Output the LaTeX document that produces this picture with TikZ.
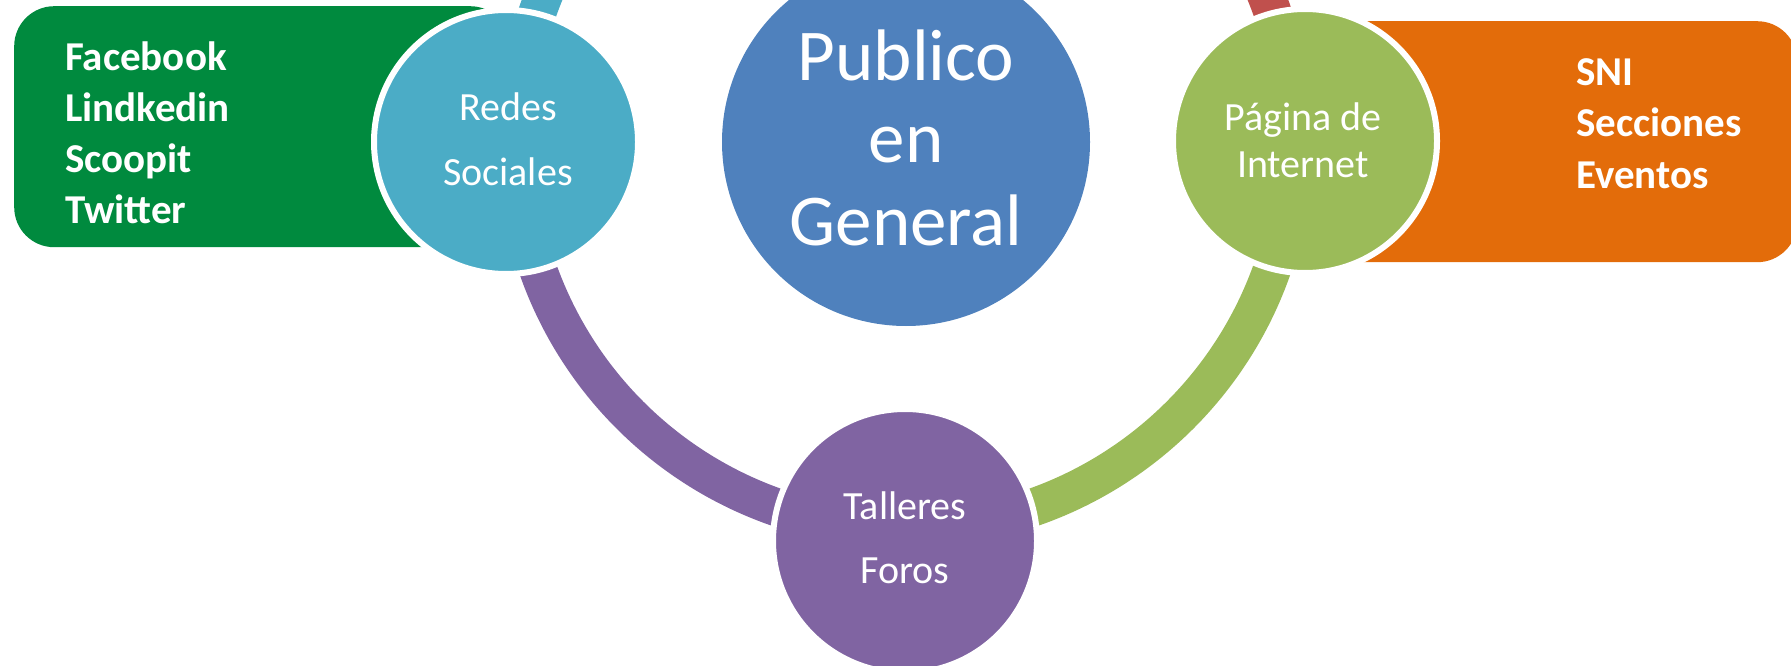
\documentclass[tikz,border=0pt]{standalone}
\usepackage{fontspec}
\setmainfont{Carlito}
\definecolor{pubblue}{RGB}{79,129,189}
\definecolor{redcyan}{RGB}{75,172,198}
\definecolor{pagreen}{RGB}{155,187,89}
\definecolor{talpurple}{RGB}{128,100,162}
\definecolor{topred}{RGB}{192,80,77}
\definecolor{boxgreen}{RGB}{0,138,62}
\definecolor{boxorange}{RGB}{227,108,10}
\begin{document}
\begin{tikzpicture}[x=1pt,y=-1pt,
  bubble/.style={circle, draw=white, line width=6pt, minimum size=264pt, inner sep=0pt},
  ringarc/.style={line width=38pt},
  panel/.style={rectangle, rounded corners=40pt, draw=none, inner sep=0pt},
  smalltxt/.style={text=white, font=\fontsize{40}{48}\selectfont, inner sep=0pt, anchor=base},
  boldtxt/.style={text=white, font=\bfseries\fontsize{41}{50}\selectfont, inner sep=0pt, anchor=base west},
  bigtxt/.style={text=white, font=\fontsize{73}{88}\selectfont, inner sep=0pt, anchor=base}]
\useasboundingbox (0,0) rectangle (1791,666);
\clip (0,0) rectangle (1791,666);

% side panels
\node[panel, fill=boxgreen, minimum width=496pt, minimum height=241pt, anchor=north west] (fbbox) at (14,6) {};
\node[panel, fill=boxorange, minimum width=497pt, minimum height=241pt, anchor=north west] (webbox) at (1300,21) {};

% ring
\coordinate (ringc) at (905,140);
\draw[ringarc, draw=redcyan] ([shift={(90:389pt)}]ringc) arc[start angle=90, end angle=180, radius=389pt];
\draw[ringarc, draw=talpurple] ([shift={(180:389pt)}]ringc) arc[start angle=180, end angle=270, radius=389pt];
\draw[ringarc, draw=pagreen] ([shift={(270:389pt)}]ringc) arc[start angle=270, end angle=360, radius=389pt];
\draw[ringarc, draw=topred] ([shift={(0:389pt)}]ringc) arc[start angle=0, end angle=90, radius=389pt];

% circles
\node[circle, fill=pubblue, minimum size=368pt, inner sep=0pt] (publico) at (906,142) {};
\node[bubble, fill=redcyan] (redes) at (506,142) {};
\node[bubble, fill=pagreen] (pagina) at (1305,141) {};
\node[bubble, fill=talpurple] (talleres) at (905,541) {};

% texts
\node[bigtxt] (pub1) at (906,81) {Publico};
\node[bigtxt] (pub2) at (906,163) {en};
\node[bigtxt] (pub3) at (906,245) {General};

\node[smalltxt] (red1) at (508,121) {Redes};
\node[smalltxt] (red2) at (508,185) {Sociales};

\node[smalltxt] (pag1) at (1303,131) {Página de};
\node[smalltxt] (pag2) at (1303,177) {Internet};

\node[smalltxt] (tal1) at (905,519) {Talleres};
\node[smalltxt] (tal2) at (905,583) {Foros};

\node[boldtxt] (fb1) at (65,71) {Facebook};
\node[boldtxt] (fb2) at (65,122) {Lindkedin};
\node[boldtxt] (fb3) at (65,172) {Scoopit};
\node[boldtxt] (fb4) at (65,223) {Twitter};

\node[boldtxt] (web1) at (1576,86) {SNI};
\node[boldtxt] (web2) at (1576,137) {Secciones};
\node[boldtxt] (web3) at (1576,188) {Eventos};
\end{tikzpicture}
\end{document}
